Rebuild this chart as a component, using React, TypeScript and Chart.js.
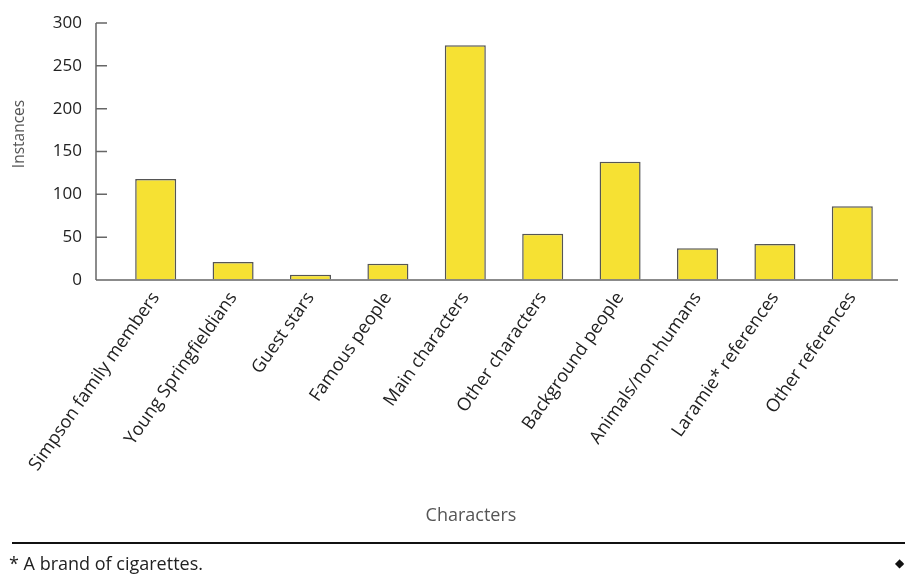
import React, { useEffect, useRef } from "react";
import { Chart, registerables } from "chart.js";

Chart.register(...registerables);

const categories = [
  "Simpson family members",
  "Young Springfieldians",
  "Guest stars",
  "Famous people",
  "Main characters",
  "Other characters",
  "Background people",
  "Animals/non-humans",
  "Laramie* references",
  "Other references",
];
const instances = [118, 21, 6, 19, 274, 54, 138, 37, 42, 86];
const yTicks = [0, 50, 100, 150, 200, 250, 300];
const xTitle = "Characters";
const yTitle = "Instances";

const FONT = "'Open Sans', Lato, sans-serif";

const axisPlugin = {
  id: "customAxes",
  afterDatasetsDraw(chart: any) {
    const { ctx, scales } = chart;
    const y = scales.y;
    const axisX = 96;
    const rightX = 898;
    const y0 = y.getPixelForValue(0);
    const yTop = y.getPixelForValue(300);
    ctx.save();
    ctx.strokeStyle = "#666666";
    ctx.lineWidth = 1.5;
    ctx.beginPath();
    ctx.moveTo(axisX, yTop);
    ctx.lineTo(axisX, y0);
    ctx.moveTo(axisX, y0);
    ctx.lineTo(rightX, y0);
    yTicks.forEach((v) => {
      const py = y.getPixelForValue(v);
      ctx.moveTo(axisX, py);
      ctx.lineTo(axisX + 11, py);
    });
    ctx.stroke();

    ctx.fillStyle = "#555555";
    ctx.textAlign = "center";
    ctx.textBaseline = "middle";
    ctx.font = `18px ${FONT}`;
    ctx.fillText(xTitle, 471, 516);
    ctx.translate(20, 134);
    ctx.rotate(-Math.PI / 2);
    ctx.font = `15.5px ${FONT}`;
    ctx.fillText(yTitle, 0, 0);
    ctx.restore();
  },
};

export default function App() {
  const ref = useRef<HTMLCanvasElement | null>(null);
  useEffect(() => {
    if (!ref.current) return;
    const chart = new Chart(ref.current, {
      type: "bar",
      data: {
        labels: categories,
        datasets: [
          {
            data: instances,
            backgroundColor: "#F6E133",
            borderColor: "#555555",
            borderWidth: 1.5,
            barPercentage: 0.53,
            categoryPercentage: 1,
          },
        ],
      },
      options: {
        animation: false,
        responsive: false,
        devicePixelRatio: 1,
        layout: { padding: { top: 23, right: 26, bottom: 48, left: 0 } },
        plugins: { legend: { display: false }, tooltip: { enabled: false } },
        scales: {
          x: {
            offset: true,
            grid: { display: false, drawTicks: false },
            border: { display: false },
            ticks: {
              maxRotation: 55,
              minRotation: 55,
              color: "#222222",
              font: { family: FONT, size: 18 },
              padding: 8,
            },
            afterFit: (s: any) => {
              s.height = 255;
            },
          },
          y: {
            min: 0,
            max: 300,
            afterBuildTicks: (s: any) => {
              s.ticks = yTicks.map((v) => ({ value: v }));
            },
            grid: {
              display: true,
              drawOnChartArea: false,
              drawTicks: true,
              tickLength: 33,
              color: "rgba(0,0,0,0)",
            },
            border: { display: false },
            ticks: {
              color: "#222222",
              font: { family: FONT, size: 17 },
              padding: 2,
            },
            afterFit: (s: any) => {
              s.width = 117;
            },
          },
        },
      },
      plugins: [axisPlugin],
    });
    return () => chart.destroy();
  }, []);

  return (
    <div style={{ position: "absolute", left: 0, top: 0, width: 917, height: 583, background: "#fff" }}>
      <canvas ref={ref} width={917} height={583} style={{ position: "absolute", left: 0, top: 0 }} />
      <div
        style={{
          position: "absolute",
          left: 12,
          top: 542,
          width: 893,
          height: 0,
          borderTop: "2px solid #111",
        }}
      />
      <div
        style={{
          position: "absolute",
          left: 9,
          top: 551,
          fontFamily: FONT,
          fontSize: 18,
          color: "#222",
          lineHeight: "24px",
          whiteSpace: "nowrap",
        }}
      >
        * A brand of cigarettes.
      </div>
      <div
        style={{
          position: "absolute",
          left: 895,
          top: 555,
          fontFamily: "DejaVu Sans, sans-serif",
          fontSize: 12,
          color: "#111",
          lineHeight: "16px",
        }}
      >
        ◆
      </div>
    </div>
  );
}
